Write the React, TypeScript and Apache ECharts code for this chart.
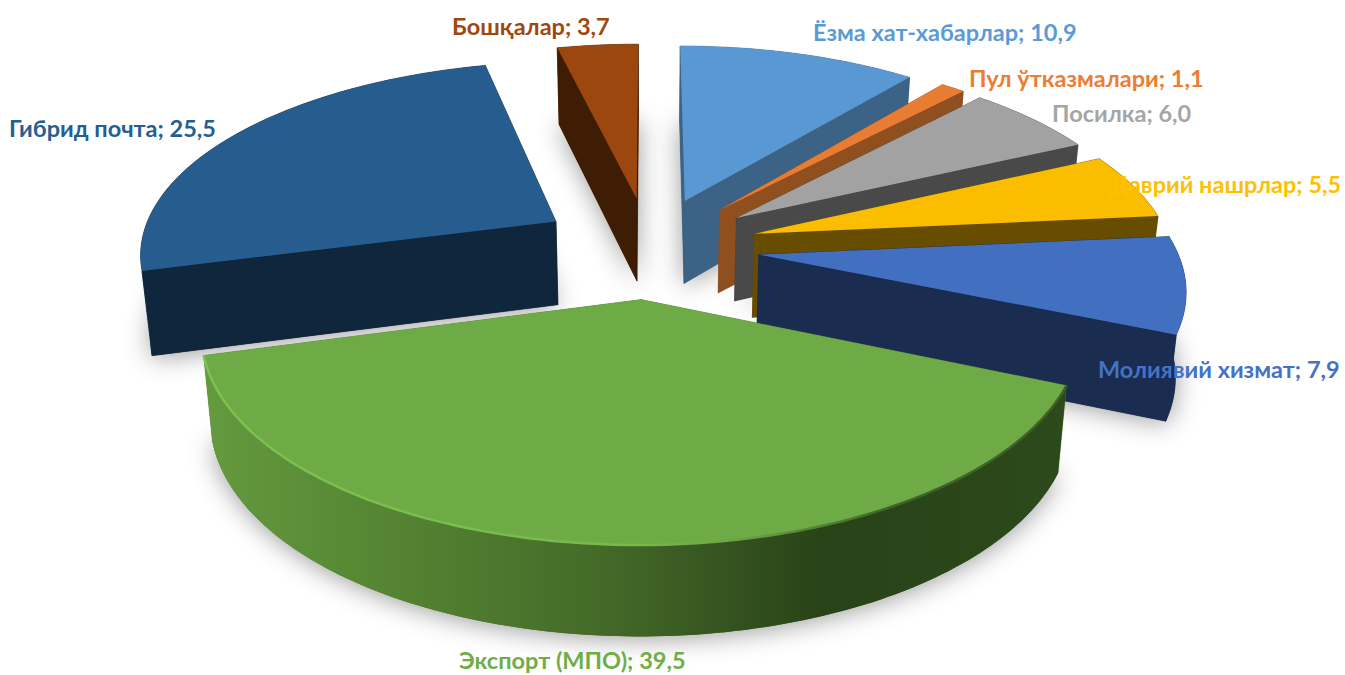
import React, { useEffect, useRef } from "react";
import * as echarts from "echarts";

const categories = ["Ёзма хат-хабарлар", "Пул ўтказмалари", "Посилка", "Даврий нашрлар", "Молиявий хизмат", "Экспорт (МПО)", "Гибрид почта", "Бошқалар"];
const values = [10.9, 1.1, 6.0, 5.5, 7.9, 39.5, 25.5, 3.7];
const valueTexts = ["10,9", "1,1", "6,0", "5,5", "7,9", "39,5", "25,5", "3,7"];
const topColors = ["#5A98D3", "#E97C33", "#A2A2A2", "#FBBD00", "#426FC0", "#6EAB46", "#265C8E", "#9C470E"];
const sideColors = ["#3C6285", "#8F4F1E", "#494949", "#664D00", "#1A2C4F", "#4F7A32", "#0F263C", "#3F1D05"];
const labelColors = ["#5B9BD5", "#ED7D31", "#A5A5A5", "#FFC000", "#4472C4", "#70AD47", "#255E91", "#9E480E"];
// paint order, back slices first
const paintOrder = [7, 0, 1, 2, 3, 4, 6, 5];
// label left edge / vertical centre in the page
const labelX = [813, 969, 1052, 1110, 1098, 459, 9, 452];
const labelY = [32, 78, 113, 184, 369, 660, 128, 26];

// projection of the tilted pie
const X0 = 649, Y0 = 247, A = 417, B = 191, P = 0.15, EXPLODE = 0.265, DEPTH = 84;

const total = values.reduce((a, b) => a + b, 0);
const starts: number[] = [];
values.reduce((acc, v, i) => {
  starts[i] = acc;
  return acc + (v / total) * Math.PI * 2;
}, 0);

function project(X: number, Y: number, z: number): number[] {
  const s = 1 / (1 - P * Y);
  const shrink = 1 - 0.02 * z;
  return [X0 + A * X * s * shrink, Y0 + B * Y * s + z * DEPTH * (1 + 0.07 * Y)];
}

function sliceShapes(i: number) {
  const a0 = starts[i];
  const a1 = a0 + (values[i] / total) * Math.PI * 2;
  const m = (a0 + a1) / 2;
  const cx = EXPLODE * Math.sin(m);
  const cy = -EXPLODE * Math.cos(m);
  const steps = Math.max(4, Math.ceil((a1 - a0) / 0.02));
  const arcAt = (z: number) => {
    const pts: number[][] = [];
    for (let k = 0; k <= steps; k++) {
      const t = a0 + ((a1 - a0) * k) / steps;
      pts.push(project(cx + Math.sin(t), cy - Math.cos(t), z));
    }
    return pts;
  };
  const topArc = arcAt(0);
  const botArc = arcAt(1);
  const apexTop = project(cx, cy, 0);
  const apexBot = project(cx, cy, 1);
  return { topArc, botArc, apexTop, apexBot };
}

function renderSlice(_params: any, api: any) {
  const i = api.value(0) as number;
  const order = paintOrder.indexOf(i);
  const base = order * 10;
  const { topArc, botArc, apexTop, apexBot } = sliceShapes(i);
  const side = sideColors[i];
  const isGreen = i === 5;
  const wallFill: any = isGreen
    ? new echarts.graphic.LinearGradient(0, 0, 1, 0, [
        { offset: 0, color: "#659A40" },
        { offset: 0.18, color: "#578834" },
        { offset: 0.45, color: "#456B29" },
        { offset: 0.72, color: "#294218" },
        { offset: 1, color: "#2C4A1B" },
      ])
    : side;
  const first = topArc[0];
  const last = topArc[topArc.length - 1];
  const firstB = botArc[0];
  const lastB = botArc[botArc.length - 1];
  const children: any[] = [
    {
      type: "polygon", z2: base,
      shape: { points: [apexBot, ...botArc] },
      style: { fill: side, shadowBlur: 26, shadowColor: "rgba(0,0,0,0.4)", shadowOffsetY: 2 },
    },
    { type: "polygon", z2: base + 1, shape: { points: [apexTop, first, firstB, apexBot] }, style: { fill: side, stroke: side, lineWidth: 0.5 } },
    { type: "polygon", z2: base + 1, shape: { points: [apexTop, last, lastB, apexBot] }, style: { fill: side, stroke: side, lineWidth: 0.5 } },
    { type: "polygon", z2: base + 2, shape: { points: [...topArc, ...botArc.slice().reverse()] }, style: { fill: wallFill, stroke: isGreen ? undefined : side, lineWidth: 0.5 } },
    { type: "polygon", z2: base + 3, shape: { points: [apexTop, ...topArc] }, style: { fill: topColors[i] } },
  ];
  if (isGreen) {
    children.push({
      type: "polyline", z2: base + 4,
      shape: { points: topArc },
      style: {
        fill: "none", lineWidth: 2.5,
        stroke: new echarts.graphic.LinearGradient(0, 0, 1, 0, [
          { offset: 0, color: "#7CC24F" },
          { offset: 0.5, color: "#78BA4C" },
          { offset: 0.62, color: "#6BA344" },
          { offset: 0.8, color: "#3F6326" },
          { offset: 1, color: "#3F6326" },
        ]),
      },
    });
  }
  children.push({
    type: "text", z2: 200,
    style: {
      x: labelX[i], y: labelY[i],
      text: `${categories[i]}; ${valueTexts[i]}`,
      fill: labelColors[i],
      font: 'bold 23.5px "Lato", "Noto Sans", sans-serif',
      textAlign: "left", textVerticalAlign: "middle",
    },
  });
  return { type: "group", children };
}

export default function App() {
  const ref = useRef<HTMLDivElement>(null);
  useEffect(() => {
    const chart = echarts.init(ref.current!, undefined, { renderer: "svg" });
    chart.setOption({
      animation: false,
      backgroundColor: "#ffffff",
      series: [
        {
          type: "custom",
          coordinateSystem: "none",
          silent: true,
          clip: false,
          renderItem: renderSlice,
          data: paintOrder.map((i) => [i, values[i]]),
        },
      ],
    });
    return () => chart.dispose();
  }, []);
  return <div ref={ref} style={{ position: "fixed", left: 0, top: 0, width: 1345, height: 675 }} />;
}
